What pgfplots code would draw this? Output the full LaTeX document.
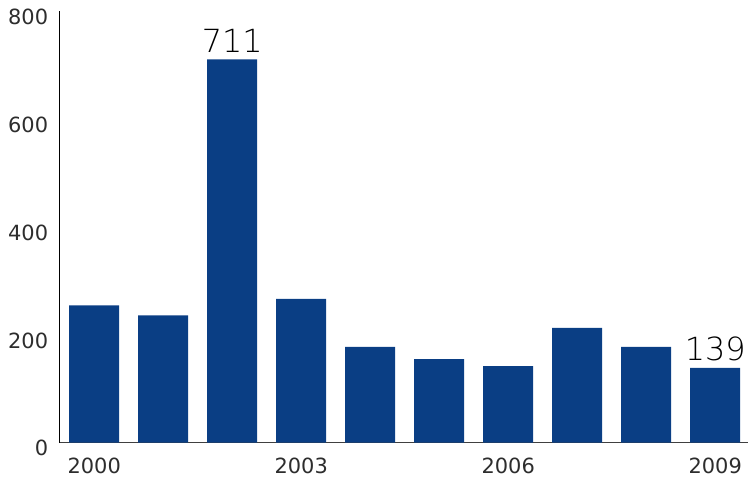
\documentclass[border=0pt]{standalone}
\usepackage{pgfplots}
\pgfplotsset{compat=1.18}
\usepackage{fontspec}
\setmainfont{DejaVu Sans}
\newfontfamily\lightfont{DejaVu Sans ExtraLight}
\definecolor{barblue}{RGB}{10,62,132}
\definecolor{txt}{RGB}{45,45,45}
\begin{document}
\begin{tikzpicture}
\begin{axis}[
  scale only axis,
  width=688.7bp, height=431.2bp,
  xmin=-0.506, xmax=9.475,
  ymin=0, ymax=800,
  enlargelimits=false,
  axis x line=bottom, axis y line=left,
  axis line style={-, line width=1.2bp},
  x axis line style={draw=black!75},
  y axis line style={draw=black},
  ytick={0,200,400,600,800},
  xtick={0,3,6,9},
  xticklabels={2000,2003,2006,2009},
  major tick length=0pt,
  tick style={draw=none},
  /pgf/number format/assume math mode=true,
  ticklabel style={font=\fontsize{21}{24}\selectfont, text=txt, inner sep=0pt},
  yticklabel style={anchor=east, xshift=-11bp, yshift=-5.5bp},
  xticklabel style={anchor=north, yshift=-15bp},
  ybar, bar width=50bp, bar shift=0pt,
  clip=false,
]
\addplot[fill=barblue, draw=none, bar shift=0pt] coordinates {(0,255) (1,236) (2,711) (3,267) (4,178) (5,155) (6,142) (7,213) (8,178) (9,139)};
\addplot[draw=none, fill=none, bar shift=0pt, nodes near coords, point meta=explicit symbolic, nodes near coords style={font=\lightfont\fontsize{32}{36}\selectfont, text=black, anchor=south, inner sep=0pt, yshift=7bp}] coordinates {(2,711)[711] (9,139)[139]};
\end{axis}
\pgfresetboundingbox
\path (current axis.south west) ++(-59.3bp,-36.3bp) rectangle ++(749bp,479bp);
\end{tikzpicture}
\end{document}
